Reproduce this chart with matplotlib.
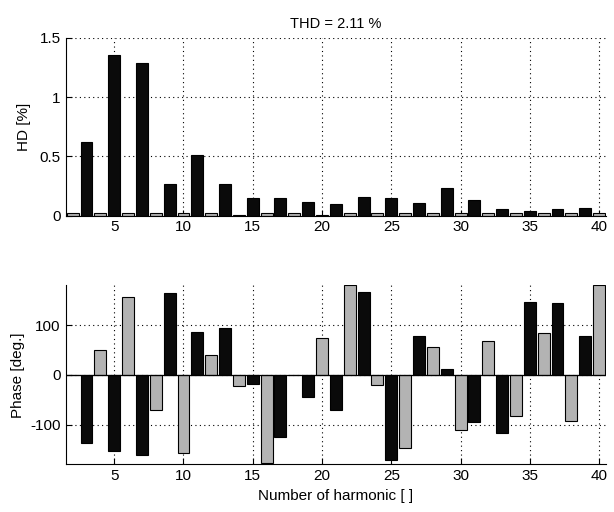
import numpy as np
import matplotlib
matplotlib.use("Agg")
import matplotlib.pyplot as plt

plt.rcParams["font.family"] = ["Liberation Sans", "DejaVu Sans"]
plt.rcParams["font.size"] = 11
plt.rcParams["axes.unicode_minus"] = False

# harmonic orders 2..40
harm = np.arange(2, 41)

# harmonic distortion [%] per order
hd = [0.025, 0.62, 0.025, 1.355, 0.025, 1.29, 0.02, 0.27, 0.02, 0.51,
      0.02, 0.27, 0.005, 0.145, 0.02, 0.145, 0.02, 0.115, 0.005, 0.10,
      0.02, 0.16, 0.02, 0.145, 0.02, 0.105, 0.02, 0.23, 0.02, 0.135,
      0.02, 0.055, 0.02, 0.042, 0.02, 0.055, 0.02, 0.065, 0.02]

# phase [deg] per order
phase = [0, -138, 50, -153, 157, -162, -70, 165, -157, 85,
         40, 93, -23, -18, -177, -125, 0, -45, 73, -70,
         180, 167, -20, -172, -147, 77, 55, 11, -110, -95,
         68, -117, -83, 147, 83, 145, -92, 77, 180]

thd = 2.11

BLACK = "#0a0a0a"
GRAY = "#b3b3b3"
colors = [BLACK if h % 2 else GRAY for h in harm]

fig = plt.figure(figsize=(6.14, 5.12), dpi=100)
ax1 = fig.add_axes([0.107, 0.579, 0.880, 0.347])
ax2 = fig.add_axes([0.107, 0.093, 0.880, 0.350])

grid_kw = dict(color="black", linestyle=(0, (1, 3)), linewidth=0.8)

for ax in (ax1, ax2):
    ax.set_axisbelow(True)
    ax.spines["top"].set_visible(False)
    ax.spines["right"].set_visible(False)
    ax.tick_params(direction="in", length=4, width=0.8)
    ax.set_xlim(1.5, 40.5)
    ax.set_xticks(np.arange(5, 41, 5))
    ax.grid(True, **grid_kw)

ax1.bar(harm, hd, width=0.86, color=colors, edgecolor="black", linewidth=0.8)
ax1.set_ylim(0, 1.5)
ax1.set_yticks([0, 0.5, 1, 1.5])
ax1.set_yticklabels(["0", "0.5", "1", "1.5"])
ax1.set_ylabel("HD [%]", labelpad=6)
ax1.set_title(f"THD = {thd:.2f} %", fontsize=10.5, pad=7)

ax2.bar(harm, phase, width=0.86, color=colors, edgecolor="black", linewidth=0.8)
ax2.axhline(0, color="black", linewidth=0.9)
ax2.set_ylim(-180, 180)
ax2.set_yticks([-100, 0, 100])
ax2.set_ylabel("Phase [deg.]")
ax2.set_xlabel("Number of harmonic [ ]")

fig.savefig("out.png", dpi=100)
